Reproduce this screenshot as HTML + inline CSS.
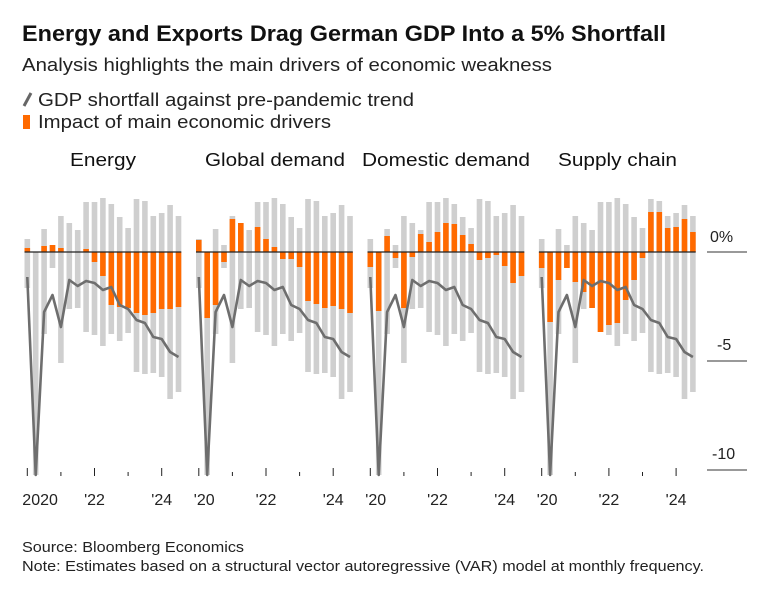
<!DOCTYPE html>
<html><head><meta charset="utf-8"><style>
body{margin:0;background:#fff;font-family:"Liberation Sans",sans-serif;color:#111}
</style></head><body>
<svg width="760" height="585" xmlns="http://www.w3.org/2000/svg" font-family="Liberation Sans, sans-serif" id="s">
<text x="22" y="41" font-size="22" font-weight="bold" fill="#111" textLength="644" lengthAdjust="spacingAndGlyphs">Energy and Exports Drag German GDP Into a 5% Shortfall</text>
<text x="22" y="71" font-size="18" fill="#222" textLength="530" lengthAdjust="spacingAndGlyphs">Analysis highlights the main drivers of economic weakness</text>
<line x1="24" y1="106" x2="31" y2="93" stroke="#666" stroke-width="3"/>
<text x="38" y="106" font-size="18" fill="#222" textLength="376" lengthAdjust="spacingAndGlyphs">GDP shortfall against pre-pandemic trend</text>
<rect x="23" y="115" width="7" height="14" fill="#ff6a00"/>
<text x="38" y="128" font-size="18" fill="#222" textLength="293" lengthAdjust="spacingAndGlyphs">Impact of main economic drivers</text>
<g font-size="18" fill="#111">
<text x="70" y="166" textLength="66" lengthAdjust="spacingAndGlyphs">Energy</text>
<text x="205" y="166" textLength="140" lengthAdjust="spacingAndGlyphs">Global demand</text>
<text x="362" y="166" textLength="168" lengthAdjust="spacingAndGlyphs">Domestic demand</text>
<text x="558" y="166" textLength="119" lengthAdjust="spacingAndGlyphs">Supply chain</text>
</g>
<g font-size="16" fill="#222">
<text x="710" y="242">0%</text>
<text x="717" y="350">-5</text>
<text x="712" y="459">-10</text>
</g>
<g stroke="#333" stroke-width="1">
<line x1="707" y1="252" x2="747" y2="252"/>
<line x1="707" y1="361" x2="747" y2="361"/>
<line x1="707" y1="470" x2="747" y2="470"/>
</g>
<g id="p"></g>
<text x="22" y="552" font-size="15" fill="#222" textLength="222" lengthAdjust="spacingAndGlyphs">Source: Bloomberg Economics</text>
<text x="22" y="571" font-size="15" fill="#222" textLength="682" lengthAdjust="spacingAndGlyphs">Note: Estimates based on a structural vector autoregressive (VAR) model at monthly frequency.</text>
</svg>
<script>
var gt=[239,252,229,245,216,223,230,202,202,198,204,217,228,199,201,216,213,205,216];
var gb=[288,475,334,268,363,309,308,332,335,346,334,341,333,372,374,373,377,399,392];
var ln=[277,475,312,295,327,280,286,281,283,290,287,305,309,320,323,337,339,352,357];
var or=[
[248,252,246,245,248,252,252,249,262,276,305,307,308,313,315,313,309,309,307],
[240,318,305,262,219,223,252,227,239,247,259,259,267,301,304,308,306,309,313],
[267,311,236,258,308,257,234,242,232,223,224,235,244,260,258,255,266,283,276],
[268,322,280,268,282,292,308,332,325,323,300,280,258,212,212,228,227,219,232]];
var starts=[27.3,198.8,370.3,541.7],sp=8.4,w=5.6,h='';
var labs=[['2020',"'22","'24"],["'20","'22","'24"],["'20","'22","'24"],["'20","'22","'24"]];
for(var p=0;p<4;p++){var x0=starts[p];
for(var i=0;i<19;i++){var x=x0+i*sp-w/2;
h+='<rect x="'+x+'" y="'+gt[i]+'" width="'+w+'" height="'+(gb[i]-gt[i])+'" fill="#cfcfcf"/>';
var o=or[p][i],a=Math.min(o,252),b=Math.max(o,252);
if(b-a>0.5)h+='<rect x="'+x+'" y="'+a+'" width="'+w+'" height="'+(b-a)+'" fill="#ff6a00"/>';}
h+='<line x1="'+(x0-w/2)+'" y1="252" x2="'+(x0+18*sp+w/2)+'" y2="252" stroke="#222" stroke-width="1.2"/>';
var pts=ln.map(function(y,i){return (x0+i*sp)+','+y}).join(' ');
h+='<polyline points="'+pts+'" fill="none" stroke="#6e6e6e" stroke-width="2.6" stroke-linejoin="round"/>';
for(var t=0;t<5;t++){var tx=x0+t*4*sp;h+='<line x1="'+tx+'" y1="'+(t%2?472:468)+'" x2="'+tx+'" y2="476" stroke="#222" stroke-width="1"/>';}
h+='<text x="'+(x0-5)+'" y="505" font-size="16" fill="#222">'+labs[p][0]+'</text>';
h+='<text x="'+(x0+8*sp)+'" y="505" font-size="16" fill="#222" text-anchor="middle">'+labs[p][1]+'</text>';
h+='<text x="'+(x0+16*sp)+'" y="505" font-size="16" fill="#222" text-anchor="middle">'+labs[p][2]+'</text>';
}
document.getElementById('p').innerHTML=h;
</script>
</body></html>
